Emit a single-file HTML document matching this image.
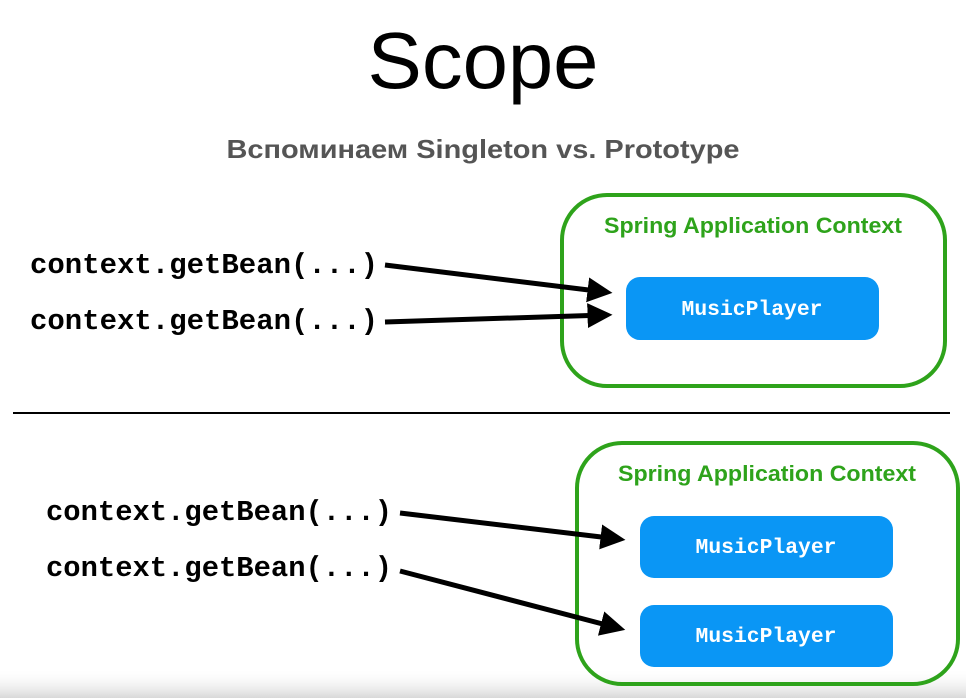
<!DOCTYPE html>
<html><head><meta charset="utf-8"><style>
html,body{margin:0;padding:0;background:#fff;}
svg{display:block;}
</style></head><body>
<svg width="966" height="698" viewBox="0 0 966 698" xmlns="http://www.w3.org/2000/svg">
<defs>
<linearGradient id="g" x1="0" y1="0" x2="0" y2="1">
<stop offset="0" stop-color="#fff" stop-opacity="0"/>
<stop offset="1" stop-color="#d8d8d8"/>
</linearGradient>
<marker id="ah" markerWidth="5" markerHeight="5" refX="3.5" refY="2.5" orient="auto" markerUnits="strokeWidth">
<path d="M0,0 L5,2.5 L0,5 z" fill="#000"/>
</marker>
</defs>
<rect x="0" y="668" width="966" height="30" fill="url(#g)"/>
<text x="483" y="88" text-anchor="middle" font-family="Liberation Sans, sans-serif" font-size="80" textLength="231" lengthAdjust="spacingAndGlyphs">Scope</text>
<text x="483" y="158" text-anchor="middle" font-family="Liberation Sans, sans-serif" font-weight="bold" font-size="26" fill="#555" textLength="513" lengthAdjust="spacingAndGlyphs">Вспоминаем Singleton vs. Prototype</text>

<rect x="562" y="195" width="383" height="191" rx="45" fill="none" stroke="#2ea31b" stroke-width="4"/>
<text x="753" y="233" text-anchor="middle" font-family="Liberation Sans, sans-serif" font-weight="bold" font-size="22" fill="#2ea31b" textLength="298" lengthAdjust="spacingAndGlyphs">Spring Application Context</text>
<rect x="626" y="277" width="253" height="63" rx="14" fill="#0a96f5"/>
<text x="752" y="315" text-anchor="middle" font-family="Liberation Mono, monospace" font-weight="bold" font-size="21" fill="#fff" textLength="141" lengthAdjust="spacingAndGlyphs">MusicPlayer</text>

<text x="30" y="273" font-family="Liberation Mono, monospace" font-weight="bold" font-size="29" textLength="348" lengthAdjust="spacingAndGlyphs">context.getBean(...)</text>
<text x="30" y="329" font-family="Liberation Mono, monospace" font-weight="bold" font-size="29" textLength="348" lengthAdjust="spacingAndGlyphs">context.getBean(...)</text>
<line x1="385" y1="265" x2="605" y2="292" stroke="#000" stroke-width="5" marker-end="url(#ah)"/>
<line x1="385" y1="322" x2="605" y2="315" stroke="#000" stroke-width="5" marker-end="url(#ah)"/>

<line x1="13" y1="413" x2="950" y2="413" stroke="#000" stroke-width="2"/>

<rect x="577" y="443" width="381" height="241" rx="45" fill="none" stroke="#2ea31b" stroke-width="4"/>
<text x="767" y="481" text-anchor="middle" font-family="Liberation Sans, sans-serif" font-weight="bold" font-size="22" fill="#2ea31b" textLength="298" lengthAdjust="spacingAndGlyphs">Spring Application Context</text>
<rect x="640" y="516" width="253" height="62" rx="14" fill="#0a96f5"/>
<text x="766" y="553" text-anchor="middle" font-family="Liberation Mono, monospace" font-weight="bold" font-size="21" fill="#fff" textLength="141" lengthAdjust="spacingAndGlyphs">MusicPlayer</text>
<rect x="640" y="605" width="253" height="62" rx="14" fill="#0a96f5"/>
<text x="766" y="642" text-anchor="middle" font-family="Liberation Mono, monospace" font-weight="bold" font-size="21" fill="#fff" textLength="141" lengthAdjust="spacingAndGlyphs">MusicPlayer</text>

<text x="46" y="520" font-family="Liberation Mono, monospace" font-weight="bold" font-size="29" textLength="346" lengthAdjust="spacingAndGlyphs">context.getBean(...)</text>
<text x="46" y="576" font-family="Liberation Mono, monospace" font-weight="bold" font-size="29" textLength="346" lengthAdjust="spacingAndGlyphs">context.getBean(...)</text>
<line x1="400" y1="513" x2="618" y2="539" stroke="#000" stroke-width="5" marker-end="url(#ah)"/>
<line x1="400" y1="571" x2="618" y2="628" stroke="#000" stroke-width="5" marker-end="url(#ah)"/>
</svg>
</body></html>
